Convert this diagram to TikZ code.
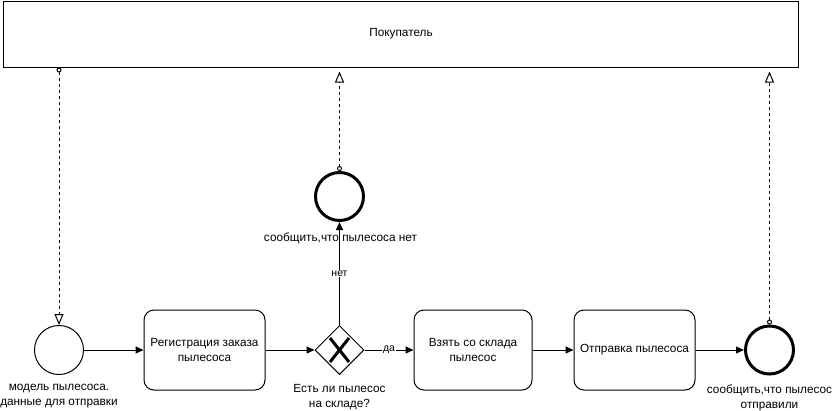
\documentclass[tikz,border=0pt]{standalone}
\usepackage{fontspec}
\setmainfont{Liberation Sans}
\usetikzlibrary{arrows.meta,positioning,shapes.geometric}

\begin{document}
\begin{tikzpicture}[x=1pt,y=-1pt,
	every node/.style={font=\fontsize{11.8}{15}\selectfont, align=center},
	task/.style={draw, rounded corners=10pt, minimum width=121pt, minimum height=80pt, line width=1pt},
	startev/.style={draw, circle, minimum size=49pt, inner sep=0pt, line width=1pt},
	endev/.style={draw, circle, minimum size=48pt, inner sep=0pt, line width=3pt},
	gateway/.style={draw, diamond, minimum width=49pt, minimum height=49pt, inner sep=0pt, line width=1pt},
	flow/.style={-{Triangle[length=8pt, width=7pt]}, line width=1pt},
	msg/.style={{Circle[open, length=5pt, width=5pt]}-{Triangle[open, length=11pt, width=9pt]}, line width=1pt, dash pattern=on 3pt off 3pt},
	lbl/.style={font=\fontsize{10.5}{12}\selectfont, fill=white, inner sep=1pt}]
	\useasboundingbox (0,0) rectangle (833,410);
	% pool
	\node[draw, line width=1pt, minimum width=795pt, minimum height=66pt, anchor=north west] (pool) at (3,0.5) {Покупатель};
	% process
	\node[startev] (start) at (59,350) {};
	\node[task] (reg) at (204.5,350) {Регистрация заказа\\пылесоса};
	\node[gateway] (gw) at (339.5,350) {};
	\draw[line width=3pt] ([shift={(-9.5,-12)}]gw.center) -- ([shift={(9.5,12)}]gw.center);
	\draw[line width=3pt] ([shift={(9.5,-12)}]gw.center) -- ([shift={(-9.5,12)}]gw.center);
	\node[endev] (none) at (339.5,196.5) {};
	\node[task, minimum width=118pt] (take) at (473,350) {Взять со склада\\пылесос};
	\node[task] (ship) at (634.5,350) {Отправка пылесоса};
	\node[endev] (done) at (769.5,350) {};
	% labels
	\node[below=6pt of start] (startlbl) {модель пылесоса.\\данные для отправки};
	\node[below=6pt of gw] (gwlbl) {Есть ли пылесос\\на складе?};
	\node[below=7pt of none, xshift=1pt] (nonelbl) {сообщить,что пылесоса нет};
	\node[below=6pt of done] (donelbl) {сообщить,что пылесос\\отправили};
	% sequence flows
	\draw[flow] (start) -- (reg);
	\draw[flow] (reg) -- (gw);
	\draw[flow] (gw) -- node[lbl, pos=0.5] {да} (take);
	\draw[flow] (gw) -- node[lbl, pos=0.5] {нет} (none);
	\draw[flow] (take) -- (ship);
	\draw[flow] (ship) -- (done);
	% message flows
	\draw[msg] (pool.south -| start) -- (start);
	\draw[msg, shorten >=4pt] (none) -- (pool.south -| none);
	\draw[msg, shorten >=4pt] (done) -- (pool.south -| done);
\end{tikzpicture}
\end{document}
